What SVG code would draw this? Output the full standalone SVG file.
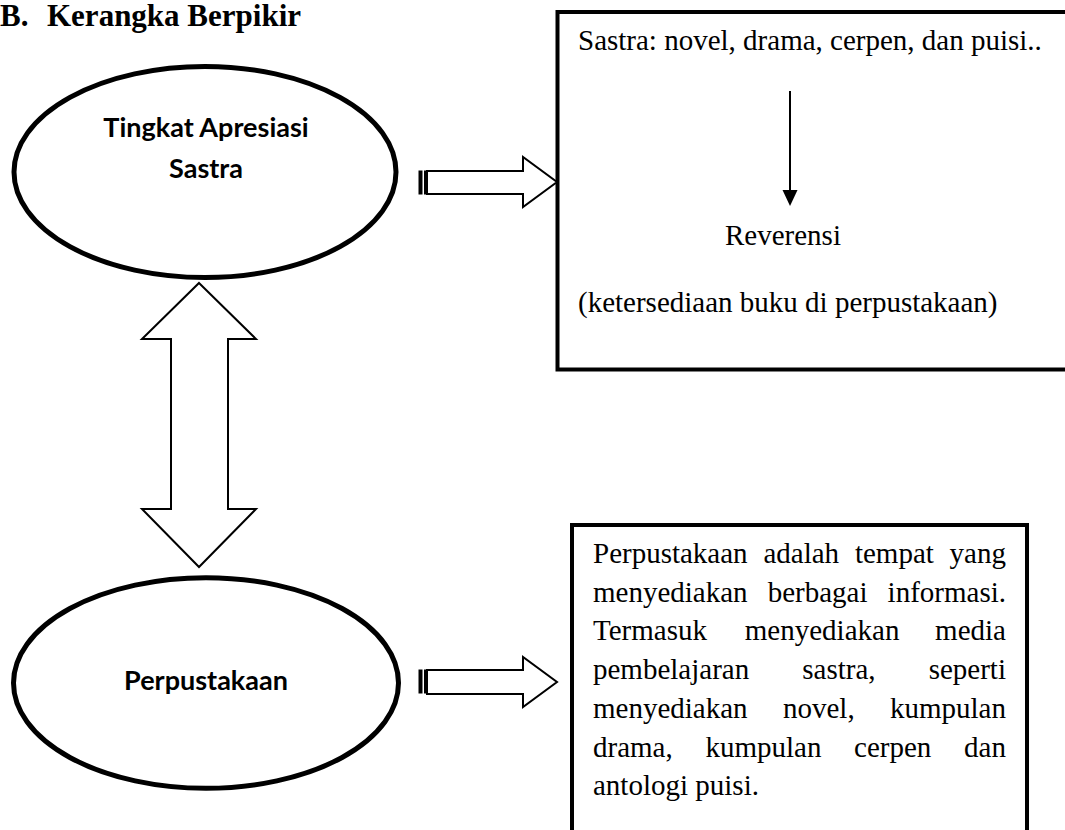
<svg xmlns="http://www.w3.org/2000/svg" width="1065" height="830" viewBox="0 0 1065 830">
<style>
.serif{font-family:"Liberation Serif","Times New Roman",serif;font-size:29px;fill:#000}
.title{font-family:"Liberation Serif","Times New Roman",serif;font-size:31px;font-weight:bold;fill:#000}
.oval{fill:#fff;stroke:#000;stroke-width:5}
.olabel{font-family:Lato,"Open Sans",sans-serif;font-size:27px;font-weight:bold;fill:#000;text-anchor:middle}
.box{fill:#fff;stroke:#000;stroke-width:4}
.blk{fill:#fff;stroke:#000;stroke-width:2;stroke-linejoin:miter}
.bar{fill:#000}
</style>
<rect width="1065" height="830" fill="#fff"/>
<text class="title" y="26"><tspan x="0">B.</tspan><tspan x="47">Kerangka Berpikir</tspan></text>

<g id="node-apresiasi">
<ellipse class="oval" cx="205" cy="172" rx="191" ry="105.5"/>
<text class="olabel" x="206" y="137">Tingkat Apresiasi</text>
<text class="olabel" x="206" y="178">Sastra</text>
</g>

<g id="node-perpustakaan">
<ellipse class="oval" cx="206" cy="683" rx="192.5" ry="105.3"/>
<text class="olabel" x="206" y="690">Perpustakaan</text>
</g>

<g id="node-sastra-box">
<rect class="box" x="557.5" y="12" width="520" height="357.5"/>
<text class="serif" x="578" y="50">Sastra: novel, drama, cerpen, dan puisi..</text>
<line x1="790" y1="91" x2="790" y2="192" stroke="#000" stroke-width="2"/>
<polygon points="782.5,190 797.5,190 790,206" fill="#000"/>
<text class="serif" x="725" y="245">Reverensi</text>
<text class="serif" x="578" y="312">(ketersediaan buku di perpustakaan)</text>
</g>

<g id="node-perpustakaan-box">
<rect class="box" x="572" y="525" width="455" height="330"/>
<text class="serif" y="563"><tspan x="593">Perpustakaan</tspan><tspan x="763.4">adalah</tspan><tspan x="854.9">tempat</tspan><tspan x="949.6">yang</tspan></text>
<text class="serif" y="601.7"><tspan x="593">menyediakan</tspan><tspan x="767.7">berbagai</tspan><tspan x="887.6">informasi.</tspan></text>
<text class="serif" y="640.4"><tspan x="593">Termasuk</tspan><tspan x="744.8">menyediakan</tspan><tspan x="935.1">media</tspan></text>
<text class="serif" y="679.1"><tspan x="593">pembelajaran</tspan><tspan x="802.3">sastra,</tspan><tspan x="928.7">seperti</tspan></text>
<text class="serif" y="717.8"><tspan x="593">menyediakan</tspan><tspan x="783">novel,</tspan><tspan x="890">kumpulan</tspan></text>
<text class="serif" y="756.5"><tspan x="593">drama,</tspan><tspan x="705.4">kumpulan</tspan><tspan x="854.1">cerpen</tspan><tspan x="964.1">dan</tspan></text>
<text class="serif" x="593" y="795.2">antologi puisi.</text>
</g>

<g id="connectors">
<g id="arrow-top">
<rect class="bar" x="418.5" y="170.5" width="4" height="24"/>
<rect class="bar" x="424" y="170.5" width="3" height="24"/>
<polygon class="blk" points="427,171 523,171 523,157 557,182 523,207 523,194 427,194"/>
</g>
<g id="arrow-bottom">
<rect class="bar" x="418.5" y="669.5" width="4" height="24"/>
<rect class="bar" x="424" y="669.5" width="3" height="24"/>
<polygon class="blk" points="427,670 523,670 523,657 557,682 523,707 523,694 427,694"/>
</g>
<polygon id="arrow-double" class="blk" stroke-width="1.5" points="199,283 256,339 228,339 228,509 256,509 199,567 142,509 171,509 171,339 142,339"/>
</g>
</svg>
